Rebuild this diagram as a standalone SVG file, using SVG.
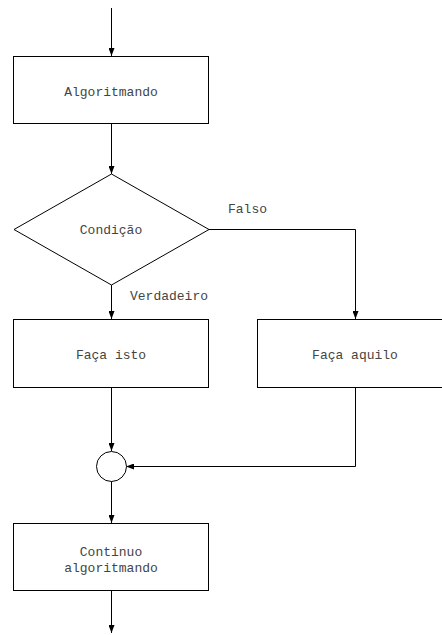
<svg xmlns="http://www.w3.org/2000/svg" width="442" height="635" viewBox="0 0 442 635">
  <style>
    .shape { fill: #ffffff; stroke: #000000; stroke-width: 1; }
    .edge { fill: none; stroke: #000000; stroke-width: 1; }
    .label { font-family: "Liberation Mono", "DejaVu Sans Mono", monospace; font-size: 13px; fill: #444444; text-anchor: middle; }
    .elabel { font-family: "Liberation Mono", "DejaVu Sans Mono", monospace; font-size: 13px; fill: #444444; }
  </style>
  <defs>
    <marker id="arrow" viewBox="0 0 8 6" refX="8" refY="3" markerWidth="8" markerHeight="6" markerUnits="userSpaceOnUse" orient="auto">
      <path d="M0,0 L8,3 L0,6 Z" fill="#000000"/>
    </marker>
  </defs>
  <rect width="442" height="635" fill="#ffffff"/>

  <g id="connectors">
    <line class="edge" x1="111.5" y1="8" x2="111.5" y2="56" marker-end="url(#arrow)"/>
    <line class="edge" x1="111.5" y1="124" x2="111.5" y2="174" marker-end="url(#arrow)"/>
    <line class="edge" x1="111.5" y1="285" x2="111.5" y2="319" marker-end="url(#arrow)"/>
    <polyline class="edge" points="209,229.5 355.5,229.5 355.5,319" marker-end="url(#arrow)"/>
    <line class="edge" x1="111.5" y1="388" x2="111.5" y2="451" marker-end="url(#arrow)"/>
    <polyline class="edge" points="355.5,388 355.5,466.5 126,466.5" marker-end="url(#arrow)"/>
    <line class="edge" x1="111.5" y1="481" x2="111.5" y2="523" marker-end="url(#arrow)"/>
    <line class="edge" x1="111.5" y1="591" x2="111.5" y2="633" marker-end="url(#arrow)"/>
    <text class="elabel" x="228" y="213">Falso</text>
    <text class="elabel" x="130" y="300">Verdadeiro</text>
  </g>

  <g id="algoritmando">
    <rect class="shape" x="13.5" y="56.5" width="195" height="67"/>
    <text class="label" x="111" y="96">Algoritmando</text>
  </g>

  <g id="condicao">
    <polygon class="shape" points="111.5,174 209,229.5 111.5,285 14,229.5"/>
    <text class="label" x="111" y="234">Condição</text>
  </g>

  <g id="faca-isto">
    <rect class="shape" x="13.5" y="319.5" width="195" height="68"/>
    <text class="label" x="111" y="359">Faça isto</text>
  </g>

  <g id="faca-aquilo">
    <rect class="shape" x="257.5" y="319.5" width="195" height="68"/>
    <text class="label" x="355" y="359">Faça aquilo</text>
  </g>

  <g id="juncao">
    <circle class="shape" cx="111.5" cy="466.5" r="15"/>
  </g>

  <g id="continuo">
    <rect class="shape" x="13.5" y="523.5" width="195" height="67"/>
    <text class="label" x="111" y="556">Continuo</text>
    <text class="label" x="111" y="572">algoritmando</text>
  </g>
</svg>
